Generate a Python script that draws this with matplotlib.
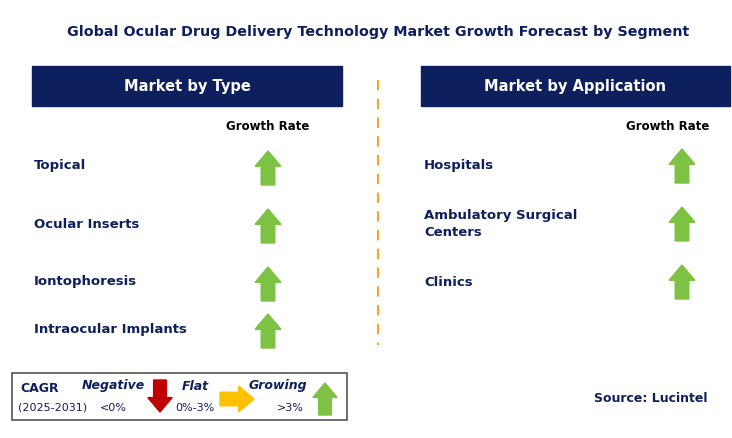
import matplotlib.pyplot as plt
from matplotlib.patches import Rectangle, Polygon

title = "Global Ocular Drug Delivery Technology Market Growth Forecast by Segment"
type_labels = ["Topical", "Ocular Inserts", "Iontophoresis", "Intraocular Implants"]
type_trend = ["up", "up", "up", "up"]
app_labels = ["Hospitals", "Ambulatory Surgical\nCenters", "Clinics"]
app_trend = ["up", "up", "up"]

NAVY = "#0d1f5c"
GREEN = "#7dc242"
RED = "#c00000"
ORANGE = "#ffc000"

fig = plt.figure(figsize=(7.32, 4.38), dpi=100)
ax = fig.add_axes([0, 0, 1, 1])
ax.set_xlim(0, 732)
ax.set_ylim(438, 0)
ax.axis("off")


def arrow(cx, cy, kind, size=34, color=None):
    h = size / 2
    bw, hw, hl = size * 0.2, size * 0.38, size * 0.45
    if kind == "up":
        pts = [(cx - bw, cy + h), (cx + bw, cy + h), (cx + bw, cy - h + hl), (cx + hw, cy - h + hl),
               (cx, cy - h), (cx - hw, cy - h + hl), (cx - bw, cy - h + hl)]
        color = color or GREEN
    elif kind == "down":
        pts = [(cx - bw, cy - h), (cx + bw, cy - h), (cx + bw, cy + h - hl), (cx + hw, cy + h - hl),
               (cx, cy + h), (cx - hw, cy + h - hl), (cx - bw, cy + h - hl)]
        color = color or RED
    else:
        pts = [(cx - h, cy - bw), (cx + h - hl, cy - bw), (cx + h - hl, cy - hw), (cx + h, cy),
               (cx + h - hl, cy + hw), (cx + h - hl, cy + bw), (cx - h, cy + bw)]
        color = color or ORANGE
    ax.add_patch(Polygon(pts, closed=True, color=color))


ax.text(378, 32, title, ha="center", va="center", fontsize=10.3, fontweight="bold", color=NAVY)

# headers
for x0, x1, txt in [(32, 342, "Market by Type"), (421, 730, "Market by Application")]:
    ax.add_patch(Rectangle((x0, 66), x1 - x0, 40, color=NAVY))
    ax.text((x0 + x1) / 2, 86, txt, ha="center", va="center", fontsize=10.5, fontweight="bold", color="white")

ax.plot([378, 378], [80, 345], color="#f5a623", ls=(0, (5, 4)), lw=1.5)

ax.text(268, 126, "Growth Rate", ha="center", va="center", fontsize=8.5, fontweight="bold", color="black")
ax.text(668, 126, "Growth Rate", ha="center", va="center", fontsize=8.5, fontweight="bold", color="black")

type_y = [166, 224, 282, 329]
for lab, tr, y in zip(type_labels, type_trend, type_y):
    ax.text(34, y, lab, ha="left", va="center", fontsize=9.5, fontweight="bold", color=NAVY)
    arrow(268, y + 2, tr)

app_y = [166, 224, 282]
for lab, tr, y in zip(app_labels, app_trend, app_y):
    ax.text(424, y, lab, ha="left", va="center", fontsize=9.5, fontweight="bold", color=NAVY,
            linespacing=1.5)
    arrow(682, y, tr)

# legend
ax.add_patch(Rectangle((12, 373), 335, 47, fill=False, ec="#555555", lw=1.2))
ax.text(20, 388, "CAGR", ha="left", va="center", fontsize=9, fontweight="bold", color=NAVY)
ax.text(18, 407, "(2025-2031)", ha="left", va="center", fontsize=8, color=NAVY)
ax.text(113, 386, "Negative", ha="center", va="center", fontsize=9, fontweight="bold", style="italic", color=NAVY)
ax.text(113, 408, "<0%", ha="center", va="center", fontsize=8, color=NAVY)
arrow(160, 396, "down", size=32)
ax.text(195, 386, "Flat", ha="center", va="center", fontsize=9, fontweight="bold", style="italic", color=NAVY)
ax.text(195, 408, "0%-3%", ha="center", va="center", fontsize=8, color=NAVY)
arrow(237, 399, "right", size=34)
ax.text(278, 386, "Growing", ha="center", va="center", fontsize=9, fontweight="bold", style="italic", color=NAVY)
ax.text(290, 408, ">3%", ha="center", va="center", fontsize=8, color=NAVY)
arrow(325, 399, "up", size=32)

ax.text(708, 399, "Source: Lucintel", ha="right", va="center", fontsize=9, fontweight="bold", color=NAVY)

fig.savefig("out.png", dpi=100)
